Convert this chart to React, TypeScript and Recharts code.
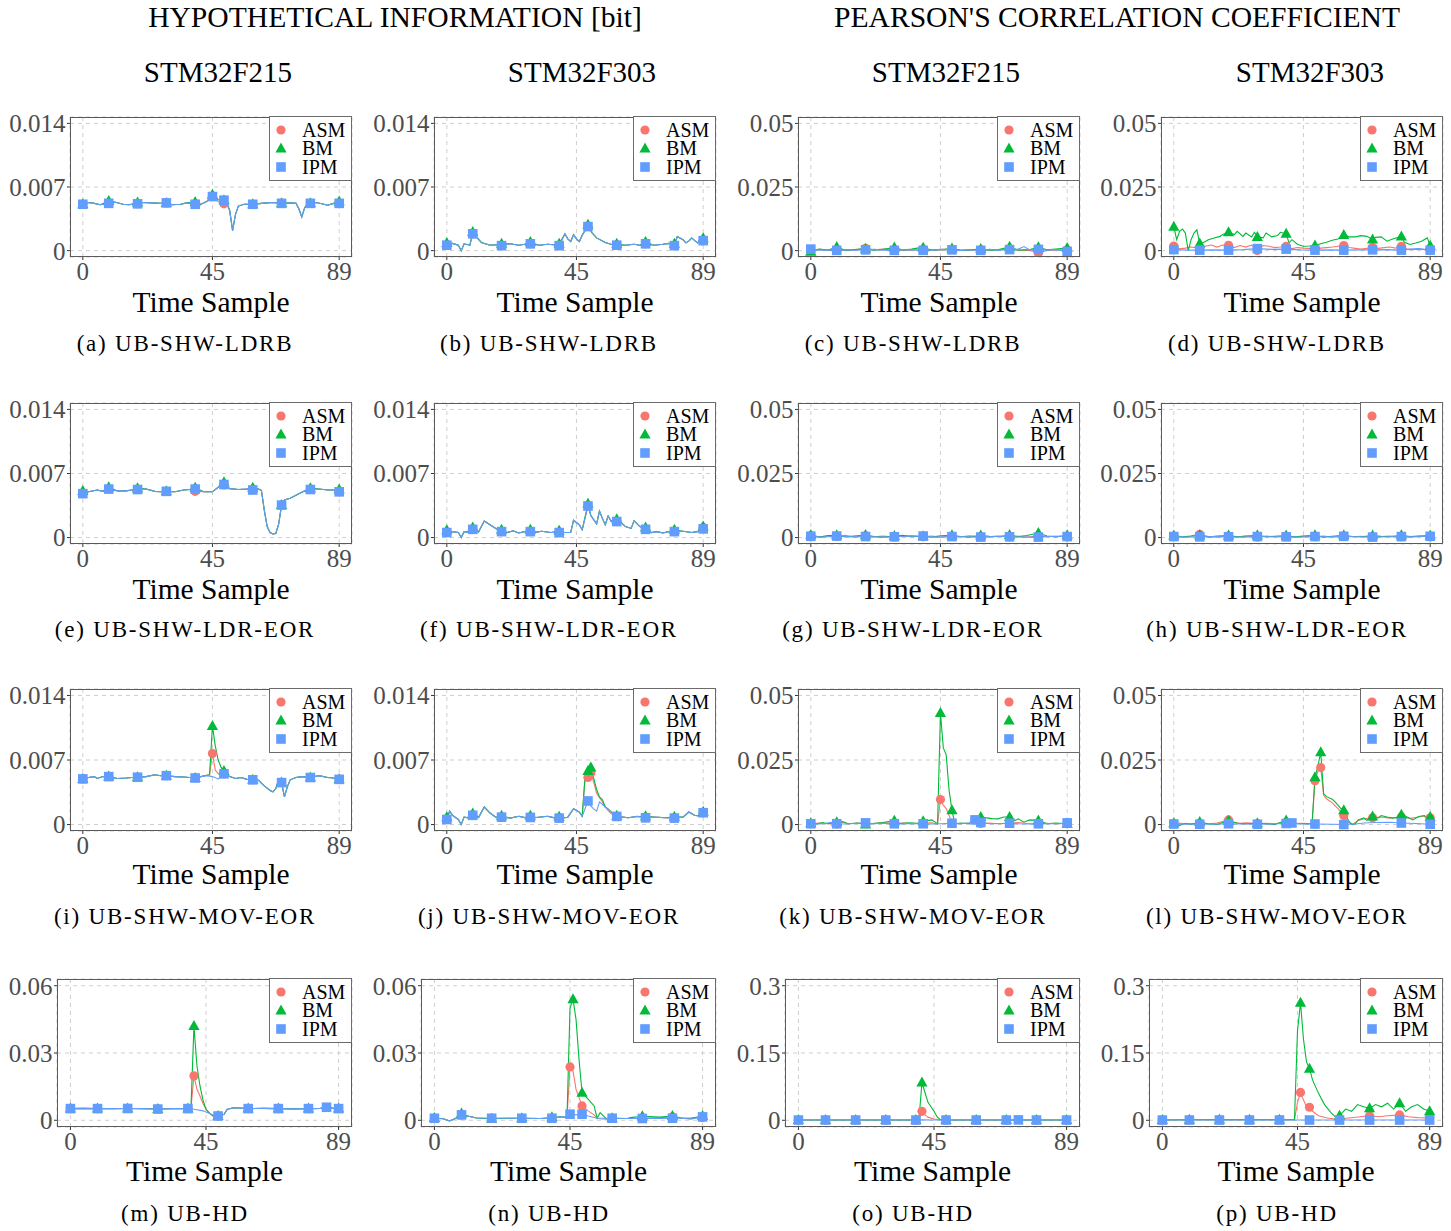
import React from "react";
import { ComposedChart, Line, Scatter, XAxis, YAxis, CartesianGrid } from "recharts";

type P = [number, number];

// ---------- labels / categories ----------
const SERIES_NAMES = ["ASM", "BM", "IPM"];
const SERIES_COLORS = ["#F8766D", "#00BA38", "#619CFF"];
const MARK_SAMPLES = [0, 9, 19, 29, 39, 49, 59, 69, 79, 89];
const X_TICKS = [0, 45, 89];
const X_DOMAIN: [number, number] = [-4.45, 93.45];
const INFO_TICKS = [0, 0.007, 0.014];
const INFO_LABELS = ["0", "0.007", "0.014"];
const PCC_TICKS = [0, 0.025, 0.05];
const PCC_LABELS = ["0", "0.025", "0.05"];
const HD_INFO_TICKS = [0, 0.03, 0.06];
const HD_INFO_LABELS = ["0", "0.03", "0.06"];
const HD_PCC_TICKS = [0, 0.15, 0.3];
const HD_PCC_LABELS = ["0", "0.15", "0.3"];
const SECTION_TITLES = ["HYPOTHETICAL INFORMATION [bit]", "PEARSON'S CORRELATION COEFFICIENT"];
const COLUMN_TITLES = ["STM32F215", "STM32F303", "STM32F215", "STM32F303"];
const ROW_NAMES = ["UB-SHW-LDRB", "UB-SHW-LDR-EOR", "UB-SHW-MOV-EOR", "UB-HD"];
const LETTERS = "abcdefghijklmnop";
const X_TITLE = "Time Sample";
const UNIT = 0.001; // series values below are in thousandths

function patch(base: P[], over: P[]): P[] {
  const m = new Map<number, number>(base.map(([x, y]) => [x, y] as [number, number]));
  over.forEach(([x, y]) => m.set(x, y));
  return Array.from(m.entries()).sort((p, q) => p[0] - q[0]) as P[];
}

// ---------- (a) ----------
const a_IPM: P[] = [[0,5.1],[2,5.3],[4,5.2],[6,5.05],[9,5.2],[11,5.35],[14,5.1],[16,5.05],[19,5.15],[21,5.3],[24,5.25],[27,5.2],[29,5.25],[31,5.05],[34,5.1],[36,5.25],[39,5.1],[41,5.1],[43,5.4],[45,5.95],[47,5.6],[49,5.55],[50,5.3],[51,4.4],[52,2.2],[53,4.0],[54,4.9],[56,5.1],[59,5.1],[62,5.2],[64,5.25],[66,5.3],[69,5.2],[72,5.25],[74,5.2],[75,4.6],[76,3.7],[77,4.7],[78,5.15],[79,5.2],[81,5.3],[83,5.15],[85,5.0],[87,5.2],[89,5.2]];
const a_ASM = patch(a_IPM, [[47,5.4],[49,5.15],[50,5.1]]);
const a_BM = patch(a_IPM, [[9,5.45],[19,5.3],[39,5.35],[45,6.15],[89,5.4]]);
// ---------- (b) ----------
const b_IPM: P[] = [[0,0.6],[2,0.8],[4,0.6],[5,0],[6,0.75],[8,0.6],[9,1.85],[10,1.6],[12,0.9],[15,0.6],[17,0.65],[19,0.55],[22,0.75],[25,0.6],[27,0.7],[29,0.75],[32,0.6],[35,0.7],[37,0.65],[39,0.55],[41,1.85],[42,1.3],[43,1.0],[44,1.75],[45,1.3],[46,1.0],[47,1.7],[49,2.65],[50,2.1],[52,1.4],[55,0.9],[57,0.7],[59,0.6],[62,0.6],[65,0.7],[67,0.6],[69,0.75],[72,0.6],[75,0.7],[77,0.8],[79,0.55],[80,1.55],[82,1.2],[83,0.85],[84,1.05],[85,1.4],[87,0.85],[89,1.1]];
const b_ASM = b_IPM;
const b_BM = patch(b_IPM, [[0,0.85],[9,2.05],[19,0.75],[29,0.95],[39,0.75],[49,2.85],[59,0.75],[69,0.95],[79,0.75],[89,1.35]]);
// ---------- (c) ----------
const c_ASM: P[] = [[0,0.3],[3,0.5],[6,0.1],[9,0.2],[12,0.1],[15,0.3],[19,0.9],[22,0.3],[25,0.6],[29,0.3],[32,0.1],[35,0.2],[39,0.4],[42,0.1],[45,0.3],[49,0.5],[52,0.2],[55,0.1],[59,0.3],[62,0.2],[65,0.4],[69,0.6],[72,0.2],[76,0.1],[79,-0.9],[82,0.1],[85,0.3],[89,0.2]];
const c_BM: P[] = [[0,-0.4],[3,0.6],[6,0.2],[9,1.4],[12,0.1],[15,0.4],[19,0.7],[22,0.2],[25,0.5],[29,1.2],[32,0.2],[35,0.6],[37,1.0],[39,1.1],[42,0.2],[45,0.4],[49,0.8],[52,0.1],[55,0.3],[59,0.6],[62,0.2],[65,0.3],[69,1.5],[72,0.2],[76,0.4],[79,1.3],[82,0.3],[85,0.6],[89,1.0]];
const c_IPM: P[] = [[0,0.6],[3,0.2],[6,0.3],[9,0.1],[12,0.4],[15,0.2],[19,0.3],[22,0.5],[25,0.2],[29,0.1],[32,0.4],[35,0.3],[39,0.1],[42,0.2],[45,0.5],[49,0.3],[52,0.1],[55,0.4],[59,0.1],[62,0.5],[65,0.2],[69,0.4],[72,0.6],[74,1.6],[76,0.3],[79,0.5],[82,0.2],[85,0.4],[89,-0.3]];
// ---------- (d) ----------
const d_ASM: P[] = [[0,1.8],[2,0.7],[4,1.0],[6,1.4],[8,1.0],[9,0.7],[11,1.7],[13,2.2],[15,1.4],[17,2.2],[19,2.1],[21,1.2],[23,2.0],[25,1.4],[27,2.2],[29,0.1],[31,2.0],[33,1.7],[35,1.2],[37,1.4],[39,1.7],[41,0.8],[43,1.2],[45,1.0],[47,0.9],[49,0.7],[51,1.0],[53,1.2],[55,1.4],[57,1.7],[59,2.0],[61,1.2],[63,0.9],[65,0.6],[67,0.9],[69,1.2],[71,0.9],[73,1.2],[75,1.4],[77,1.0],[79,1.7],[81,0.6],[83,0.4],[85,0.6],[87,0.4],[89,0.2]];
const d_BM: P[] = [[0,9.4],[1,4.3],[2,7.6],[3,8.5],[4,6.9],[5,0],[6,4.3],[7,6.9],[8,8.2],[9,2.8],[10,3.0],[12,4.3],[14,5.0],[16,5.6],[17,6.3],[19,7.2],[21,6.3],[22,7.6],[24,5.6],[25,6.9],[27,5.4],[28,7.2],[29,5.4],[31,5.0],[32,6.9],[34,5.4],[36,5.9],[37,7.2],[39,6.6],[40,3.0],[41,4.3],[43,2.4],[45,1.7],[47,1.8],[49,2.0],[51,2.7],[53,3.3],[55,4.1],[57,4.6],[59,6.1],[61,5.4],[63,5.4],[65,5.9],[67,5.6],[69,4.4],[70,5.2],[72,5.4],[74,3.7],[76,4.6],[79,5.6],[80,3.3],[82,2.4],[84,3.0],[86,3.7],[88,5.0],[89,1.9]];
const d_IPM: P[] = [[0,0.4],[5,0.2],[9,0.2],[14,0.3],[19,0.2],[24,0.4],[29,0.8],[34,0.5],[39,0.6],[44,0.3],[49,0.2],[54,0.3],[59,0.2],[64,0.3],[69,0.3],[74,0.4],[79,0.2],[82,0.6],[85,0.8],[87,0.5],[89,0.2]];
// ---------- (e) ----------
const e_IPM: P[] = [[0,4.8],[2,5.0],[5,5.2],[7,5.05],[9,5.3],[12,5.1],[15,5.1],[17,5.2],[19,5.25],[22,5.3],[25,5.05],[27,5.0],[29,5.05],[32,5.0],[35,5.2],[37,5.25],[39,5.3],[42,5.0],[45,5.0],[47,5.5],[49,5.8],[51,5.35],[54,5.25],[57,5.3],[59,5.2],[61,5.3],[62,5.15],[63,3.0],[64,1.2],[65,0.55],[66,0.4],[67,0.45],[68,1.5],[69,3.55],[70,4.1],[72,4.3],[75,4.8],[77,5.1],[79,5.25],[82,5.3],[85,5.2],[87,5.2],[89,5.0]];
const e_ASM = patch(e_IPM, [[39,5.05],[49,5.75]]);
const e_BM = patch(e_IPM, [[0,5.1],[9,5.5],[19,5.4],[39,5.45],[49,6.05],[59,5.45],[79,5.4],[89,5.25]]);
// ---------- (f) ----------
const f_IPM: P[] = [[0,0.55],[2,0.65],[4,0.55],[5,0],[6,0.65],[8,0.55],[9,0.9],[11,0.6],[13,1.8],[15,1.4],[17,1.0],[19,0.65],[21,0.55],[23,0.75],[25,0.5],[27,0.65],[29,0.65],[31,0.6],[33,0.7],[36,0.55],[39,0.55],[41,0.55],[43,0.55],[44,1.9],[46,1.4],[47,0.85],[49,3.45],[50,2.4],[52,1.5],[53,2.9],[54,2.1],[55,1.4],[56,2.35],[57,1.8],[59,1.75],[60,1.8],[62,1.2],[64,1.0],[65,1.85],[67,1.2],[69,0.9],[71,0.55],[73,0.65],[75,0.5],[77,0.65],[79,0.65],[82,0.7],[85,0.55],[87,0.65],[89,0.95]];
const f_ASM = patch(f_IPM, [[89,1.1]]);
const f_BM = patch(f_IPM, [[0,0.8],[9,1.1],[19,0.85],[29,0.85],[39,0.75],[49,3.7],[59,2.0],[69,1.1],[79,0.85],[89,1.2]]);
// ---------- (g) ----------
const g_ASM: P[] = [[0,0.8],[3,0.3],[6,0.6],[9,0.4],[12,0.9],[15,0.2],[19,0.7],[22,0.3],[25,0.6],[29,0.2],[32,0.5],[35,0.8],[39,0.3],[42,0.6],[45,0.2],[49,0.5],[52,0.3],[55,0.7],[59,0.4],[62,0.2],[65,0.6],[69,0.3],[72,0.5],[75,0.2],[79,0.6],[82,0.3],[85,0.5],[89,0.3]];
const g_BM: P[] = [[0,1.0],[3,0.2],[6,0.8],[9,0.9],[12,0.3],[15,0.6],[19,1.0],[22,0.4],[25,0.2],[29,0.6],[32,0.9],[35,0.3],[39,0.5],[42,0.2],[45,0.7],[49,0.9],[52,0.4],[55,0.2],[59,0.8],[62,0.5],[65,0.3],[69,1.0],[72,0.4],[75,0.8],[79,1.8],[82,0.6],[85,0.3],[89,0.9]];
const g_IPM: P[] = [[0,0.5],[4,0.2],[9,0.6],[14,0.3],[19,0.4],[24,0.2],[29,0.3],[34,0.5],[39,0.6],[44,0.2],[49,0.4],[54,0.3],[59,0.2],[64,0.5],[69,0.3],[74,0.2],[79,0.2],[84,0.5],[89,0.4]];
// ---------- (h) ----------
const h_ASM: P[] = [[0,0.5],[3,0.2],[6,0.7],[9,1.3],[12,0.4],[15,0.2],[19,0.6],[22,0.3],[25,0.5],[29,0.2],[32,0.6],[35,0.3],[39,0.4],[42,0.2],[45,0.5],[49,0.3],[52,0.6],[55,0.2],[59,0.4],[62,0.3],[65,0.5],[69,0.2],[72,0.4],[75,0.6],[79,0.3],[82,0.2],[85,0.5],[89,0.3]];
const h_BM: P[] = [[0,0.8],[3,0.3],[6,0.5],[9,0.9],[12,0.2],[15,0.6],[19,0.8],[22,0.3],[25,0.6],[29,0.9],[32,0.3],[35,0.5],[39,0.8],[42,0.3],[45,0.6],[49,0.9],[52,0.2],[55,0.5],[59,0.9],[62,0.4],[65,0.3],[69,0.8],[72,0.5],[75,0.3],[79,0.9],[82,0.4],[85,0.6],[89,0.8]];
const h_IPM: P[] = [[0,0.4],[4,0.2],[9,0.3],[14,0.4],[19,0.3],[24,0.2],[29,0.4],[34,0.3],[39,0.3],[44,0.2],[49,0.4],[54,0.3],[59,0.5],[64,0.3],[69,0.2],[74,0.3],[79,0.4],[84,0.3],[89,0.5]];
// ---------- (i) ----------
const i_IPM: P[] = [[0,4.95],[2,5.1],[4,5.2],[5,5.0],[7,5.2],[9,5.2],[12,5.0],[15,5.05],[17,5.1],[19,5.13],[22,5.2],[25,5.4],[27,5.3],[29,5.3],[32,5.2],[35,5.15],[37,5.1],[39,5.05],[41,5.2],[43,5.3],[45,5.2],[47,4.95],[49,5.5],[51,5.2],[53,5.0],[55,5.1],[57,4.9],[59,4.85],[61,4.8],[63,4.2],[65,3.7],[66,3.55],[67,3.9],[68,4.9],[69,4.55],[70,3.0],[71,4.1],[72,4.85],[74,5.1],[76,5.2],[79,5.1],[82,5.3],[85,5.1],[87,5.05],[89,4.9]];
const i_ASM = patch(i_IPM, [[43,5.35],[44,5.4],[45,7.7],[46,5.9],[47,5.55]]);
const i_BM = patch(i_IPM, [[43,5.35],[44,5.4],[45,10.7],[46,8.5],[47,7.0],[48,6.2],[49,5.8]]);
// ---------- (j) ----------
const j_IPM: P[] = [[0,0.55],[1,1.45],[2,1.0],[4,0.55],[5,0],[6,0.8],[8,0.7],[9,1.0],[11,0.75],[13,1.9],[15,1.25],[17,0.8],[19,0.8],[22,0.7],[25,0.9],[27,0.75],[29,0.77],[31,0.77],[35,0.9],[37,0.75],[39,0.7],[41,0.75],[42,0.8],[44,1.72],[46,1.35],[47,0.9],[49,2.56],[50,2.0],[51,1.7],[52,1.45],[53,2.45],[55,1.9],[57,1.4],[59,0.88],[61,0.8],[63,0.73],[66,0.88],[69,0.73],[72,0.8],[76,0.73],[79,0.7],[82,0.8],[84,1.36],[86,1.0],[88,0.9],[89,1.28]];
const j_ASM = patch(j_IPM, [[48,5.0],[49,5.1],[50,5.6],[51,4.6],[52,3.4],[53,2.9],[54,2.45],[56,1.5],[57,1.2],[59,0.9]]);
const j_BM = patch(j_IPM, [[0,0.8],[9,1.2],[19,0.95],[29,0.95],[39,0.85],[48,5.3],[49,5.8],[50,6.2],[51,5.0],[52,3.8],[53,3.0],[54,2.7],[56,1.7],[58,1.1],[59,0.95],[69,0.9],[79,0.85],[89,1.4]]);
// ---------- (k) ----------
const k_ASM: P[] = [[0,0.4],[3,0.6],[6,0.3],[9,0.2],[11,0.9],[13,0.3],[16,0.5],[19,0.6],[22,0.3],[25,0.8],[29,0.4],[32,0.6],[35,0.3],[39,0.5],[42,0.7],[44,0.2],[45,9.7],[46,7.5],[47,6.2],[48,3.5],[49,0.5],[52,0.3],[55,0.6],[57,0.9],[59,0.4],[62,0.6],[65,0.3],[69,0.5],[72,0.8],[75,0.4],[79,0.3],[82,0.5],[85,0.3],[89,0.4]];
const k_BM: P[] = [[0,0.5],[2,0.2],[4,0.8],[6,0.3],[9,0.9],[11,1.2],[13,0.3],[16,0.6],[19,0.0],[22,0.5],[25,0.8],[29,1.5],[31,0.4],[34,0.7],[37,0.5],[39,1.3],[42,1.8],[44,0.3],[45,43.2],[46,29.7],[47,27.0],[48,13.3],[49,5.5],[50,0.3],[52,0.6],[55,0.4],[57,2.9],[59,2.9],[61,2.6],[63,2.3],[65,2.2],[67,2.9],[69,2.9],[71,1.6],[72,2.2],[74,0.9],[76,1.8],[79,1.6],[82,0.3],[85,0.6],[89,0.3]];
const k_IPM: P[] = [[0,0.3],[3,0.2],[5,0.4],[7,0.9],[9,0.3],[12,0.2],[15,0.4],[19,0.65],[22,0.3],[25,0.5],[29,0.3],[32,0.2],[35,0.4],[39,0.3],[42,0.2],[45,0.3],[49,0.5],[52,0.3],[55,0.6],[57,1.8],[59,0.8],[62,0.3],[66,0.4],[69,0.5],[72,0.3],[76,0.2],[79,0.3],[82,0.4],[86,0.3],[89,0.65]];
// ---------- (l) ----------
const l_ASM: P[] = [[0,0.3],[2,0.6],[4,0.2],[6,0.4],[9,0.5],[12,0.2],[15,0.6],[17,1.2],[19,1.8],[21,0.9],[23,0.5],[25,0.7],[29,0.4],[32,0.5],[35,0.3],[39,0.8],[41,0.4],[45,0.5],[48,0.3],[49,17.0],[50,20.5],[51,22.1],[52,11.4],[53,10.0],[55,8.4],[57,6.2],[59,3.5],[60,1.6],[61,0.6],[62,0],[64,1.6],[66,2.2],[69,2.6],[72,2.9],[75,2.5],[79,2.9],[82,2.4],[85,2.9],[87,3.3],[89,2.6]];
const l_BM: P[] = [[0,0.5],[2,-0.3],[4,0.5],[6,0],[9,1.0],[12,0.3],[15,0],[19,1.5],[22,0.5],[25,0.3],[29,0.5],[32,0.3],[35,0],[39,1.6],[41,0.5],[45,0.3],[48,0.3],[49,18.3],[50,22.5],[51,28.0],[52,12.0],[53,10.8],[55,9.8],[56,8.8],[57,7.5],[58,6.2],[59,5.5],[60,2.9],[61,0.9],[62,0],[63,0.3],[64,1.8],[66,2.6],[67,1.6],[69,3.1],[71,2.6],[72,3.5],[74,2.9],[76,2.5],[78,2.9],[79,3.8],[81,2.9],[83,1.8],[85,3.1],[87,3.5],[88,1.8],[89,2.9]];
const l_IPM: P[] = [[0,0.2],[9,0.1],[19,0.3],[29,0.1],[39,0.4],[41,0.6],[45,0.2],[49,0.2],[55,0.1],[59,0.0],[63,0.2],[66,0.6],[70,0.8],[75,0.9],[79,0.6],[84,0.4],[89,0.1]];
// ---------- (m) ----------
const m_IPM: P[] = [[0,5.2],[4,5.3],[9,5.2],[14,5.2],[19,5.25],[24,5.2],[29,5.0],[34,5.2],[39,5.2],[40,5.2],[41,4.9],[44,4.2],[46,3.1],[48,1.9],[49,1.9],[51,2.7],[52,4.8],[54,5.6],[56,5.5],[59,5.2],[64,5.3],[69,5.2],[74,5.1],[79,5.2],[83,5.3],[85,5.8],[87,5.4],[89,5.2]];
const m_ASM = patch(m_IPM, [[41,19.8],[42,13.8],[43,10.8],[44,7.5],[45,4.9],[46,3.4],[47,2.2],[48,1.2]]);
const m_BM = patch(m_IPM, [[41,42.0],[42,24.2],[43,15.3],[44,9.0],[45,4.9],[46,3.4],[47,2.2],[48,1.5]]);
// ---------- (n) ----------
const n_IPM: P[] = [[0,0.9],[3,0.7],[5,-0.3],[7,0.8],[9,2.4],[11,1.9],[14,1.0],[19,0.9],[24,0.9],[29,0.9],[35,0.8],[39,0.9],[42,1.6],[44,1.4],[45,2.7],[47,2.4],[49,2.7],[51,1.9],[54,0.9],[59,0.9],[64,0.8],[69,0.8],[75,0.8],[79,0.9],[82,1.0],[85,0.5],[89,1.5]];
const n_ASM = patch(n_IPM, [[44,1.2],[45,23.8],[46,22.0],[47,13.8],[48,10.1],[49,6.4],[51,4.2],[53,2.4],[55,0.7],[57,0.5],[59,0.8],[65,0.8],[69,1.0],[75,1.2],[79,1.5],[85,0.9],[89,1.2]]);
const n_BM = patch(n_IPM, [[0,1.0],[9,3.0],[19,0.7],[29,0.9],[39,1.3],[44,1.2],[45,50.0],[46,54.0],[47,45.0],[48,27.0],[49,12.3],[51,9.4],[53,6.4],[55,3.4],[57,0.7],[59,0.9],[65,1.2],[69,1.8],[75,1.4],[79,1.9],[85,0.9],[89,1.9]]);
// ---------- (o) ----------
const o_ASM: P[] = [[0,0.5],[9,0.5],[19,0.5],[29,0.5],[39,0.5],[40,0.5],[41,20],[42,12],[43,7],[45,3],[47,1],[49,0.5],[59,0.5],[69,0.5],[79,0.5],[89,0.5]];
const o_BM: P[] = [[0,0.5],[9,0.5],[19,0.5],[29,0.5],[39,0.5],[40,0.5],[41,84],[42,62],[43,40],[45,20],[46,8],[47,2],[49,0.5],[59,0.5],[69,0.5],[79,0.5],[89,0.5]];
const o_IPM: P[] = [[0,0.5],[9,0.5],[19,0.5],[29,0.5],[39,0.5],[41,1.0],[45,0.5],[49,0.5],[59,0.5],[69,0.5],[73,0.8],[76,0.5],[79,0.5],[89,0.5]];
// ---------- (p) ----------
const p_ASM: P[] = [[0,0.5],[9,1],[19,1],[29,1],[39,1],[44,1],[45,40],[46,62],[47,45],[48,30],[49,29],[50,20],[52,10],[55,5],[58,2],[59,3],[62,5],[66,8],[69,10],[72,8],[75,10],[79,12],[82,8],[85,6],[89,5]];
const p_BM: P[] = [[0,0.5],[9,1],[19,1],[29,1],[39,1],[44,1],[45,200],[46,262],[47,180],[48,130],[49,115],[50,90],[52,60],[54,35],[56,18],[58,5],[59,10],[61,25],[63,20],[65,35],[67,30],[69,27],[71,35],[73,30],[75,38],[77,25],[79,38],[81,20],[83,30],[85,35],[87,25],[89,20]];
const p_IPM: P[] = [[0,0.5],[9,0.5],[19,0.5],[29,0.5],[39,0.5],[49,0.5],[59,0.5],[69,0.5],[79,0.5],[89,0.5]];

// per-panel series in [ASM, BM, IPM] order and the sample of each series' maximum marker
const PANEL_SERIES: P[][][] = [
  [a_ASM, a_BM, a_IPM], [b_ASM, b_BM, b_IPM], [c_ASM, c_BM, c_IPM], [d_ASM, d_BM, d_IPM],
  [e_ASM, e_BM, e_IPM], [f_ASM, f_BM, f_IPM], [g_ASM, g_BM, g_IPM], [h_ASM, h_BM, h_IPM],
  [i_ASM, i_BM, i_IPM], [j_ASM, j_BM, j_IPM], [k_ASM, k_BM, k_IPM], [l_ASM, l_BM, l_IPM],
  [m_ASM, m_BM, m_IPM], [n_ASM, n_BM, n_IPM], [o_ASM, o_BM, o_IPM], [p_ASM, p_BM, p_IPM],
];
const PEAK_MARKS: (number | null)[][] = [
  [45, 45, 45], [null, null, null], [null, null, null], [null, null, null],
  [null, null, null], [null, null, null], [null, null, null], [null, null, null],
  [45, 45, null], [50, 50, null], [45, 45, 57], [51, 51, 41],
  [41, 41, 85], [45, 46, 45], [41, 41, 73], [46, 46, null],
];

// ---------- layout ----------
const FONT = "'Liberation Serif', 'Times New Roman', serif";
const ROW_TOP = [117, 403, 689, 979];
const ROW_BOTTOM = [257, 544, 831, 1127];
const PLOT_LEFT = [[70, 434, 798, 1161], [70, 434, 798, 1161], [70, 434, 798, 1161], [57, 421, 785, 1149]];
const PLOT_RIGHT = [352, 716, 1080, 1443];
const X_TITLE_Y = [302, 589, 874, 1171];
const CAPTION_Y = [343, 629, 916, 1213];
const CAPTION_X = [185, 549, 913, 1277];
const COL_TITLE_X = [218, 582, 946, 1310];

function Marker({ kind, cx, cy, color }: { kind: number; cx: number; cy: number; color: string }) {
  if (cx == null || cy == null || isNaN(cx) || isNaN(cy)) return <g />;
  if (kind === 0) return <circle cx={cx} cy={cy} r={4.6} fill={color} />;
  if (kind === 1)
    return <polygon points={`${cx},${cy - 6} ${cx + 5.6},${cy + 4} ${cx - 5.6},${cy + 4}`} fill={color} />;
  return <rect x={cx - 4.8} y={cy - 4.8} width={9.6} height={9.6} fill={color} />;
}

// centred text; a tight line box keeps the glyphs centred on y
function Text({ x, y, size, children, color = "#000", spacing = 0 }: any) {
  const lh = Math.round(size * 0.55);
  return (
    <div
      style={{
        position: "absolute", left: x, top: y - lh / 2, transform: "translateX(-50%)", height: lh,
        fontSize: size, lineHeight: `${lh}px`, fontFamily: FONT, color, whiteSpace: "nowrap",
        letterSpacing: spacing,
      }}
    >
      {children}
    </div>
  );
}

function Legend({ right, top }: { right: number; top: number }) {
  const w = 83, h = 65, step = 18.5, first = 13;
  return (
    <div
      style={{
        position: "absolute", left: right - w, top: top - 1, width: w, height: h,
        border: "1.2px solid #6b6b6b", boxSizing: "border-box", background: "#fff",
      }}
    >
      <svg style={{ position: "absolute", left: 4, top: 0 }} width={16} height={h - 2}>
        {SERIES_NAMES.map((name, k) => (
          <Marker key={name} kind={k} cx={7} cy={first + k * step} color={SERIES_COLORS[k]} />
        ))}
      </svg>
      <div
        style={{
          position: "absolute", left: 32, top: first - step / 2, lineHeight: `${step}px`,
          fontSize: 20, fontFamily: FONT, color: "#000", whiteSpace: "pre",
        }}
      >
        {SERIES_NAMES.join("\n")}
      </div>
    </div>
  );
}

function Panel({ idx }: { idx: number }) {
  const r = Math.floor(idx / 4), c = idx % 4;
  const left = PLOT_LEFT[r][c], right = PLOT_RIGHT[c], top = ROW_TOP[r], bottom = ROW_BOTTOM[r];
  const YW = 80, MT = 8, MR = 8, XH = 40;
  const W = YW + (right - left) + MR;
  const H = MT + (bottom - top) + XH;
  const info = c < 2;
  const ticks = r < 3 ? (info ? INFO_TICKS : PCC_TICKS) : info ? HD_INFO_TICKS : HD_PCC_TICKS;
  const labels = r < 3 ? (info ? INFO_LABELS : PCC_LABELS) : info ? HD_INFO_LABELS : HD_PCC_LABELS;
  const top_ = ticks[2];
  const domain: [number, number] = [-0.05 * top_, 1.05 * top_];
  const series = PANEL_SERIES[idx].map((s) => s.map(([x, y]) => ({ x, y: y * UNIT })));
  const marks = series.map((s, k) => {
    const set = new Set(MARK_SAMPLES);
    const pk = PEAK_MARKS[idx][k];
    if (pk != null) set.add(pk);
    return s.filter((p) => set.has(p.x));
  });
  const tickStyle = { fill: "#4d4d4d", fontSize: 25, fontFamily: FONT };
  return (
    <>
      <div style={{ position: "absolute", left: left - YW, top: top - MT }}>
        <ComposedChart width={W} height={H} margin={{ top: MT, right: MR, bottom: 0, left: 0 }}>
          <CartesianGrid stroke="#cfcfcf" strokeDasharray="4 4" strokeWidth={1} />
          <XAxis
            type="number" dataKey="x" domain={X_DOMAIN} ticks={X_TICKS} allowDataOverflow interval={0}
            height={XH} axisLine={false} tickSize={3} tickMargin={2} tick={tickStyle}
            tickLine={{ stroke: "#333" }}
          />
          <YAxis
            type="number" dataKey="y" domain={domain} ticks={ticks} allowDataOverflow interval={0}
            width={YW} axisLine={false} tickSize={3} tickMargin={1.5} tick={tickStyle}
            tickLine={{ stroke: "#333" }}
            tickFormatter={(v: number) => {
              const i = ticks.findIndex((t) => Math.abs(t - v) < 1e-9);
              return i >= 0 ? labels[i] : String(v);
            }}
          />
          {series.map((s, k) => (
            <Line
              key={"l" + k} data={s} dataKey="y" type="linear" stroke={SERIES_COLORS[k]} strokeWidth={1.1}
              dot={false} activeDot={false} isAnimationActive={false} legendType="none"
            />
          ))}
          {marks.map((s, k) => (
            <Scatter
              key={"s" + k} data={s} dataKey="y" fill={SERIES_COLORS[k]} isAnimationActive={false}
              legendType="none"
              shape={(p: any) => <Marker kind={k} cx={p.cx} cy={p.cy} color={SERIES_COLORS[k]} />}
            />
          ))}
        </ComposedChart>
      </div>
      <div
        style={{
          position: "absolute", left, top, width: right - left, height: bottom - top,
          border: "1px solid #5a5a5a", boxSizing: "border-box", pointerEvents: "none",
        }}
      />
      <Legend right={right} top={top} />
      <Text x={(left + right) / 2} y={X_TITLE_Y[r]} size={29.5}>{X_TITLE}</Text>
      <Text x={CAPTION_X[c]} y={CAPTION_Y[r]} size={23} spacing={1.8}>
        {`(${LETTERS[idx]}) ${ROW_NAMES[r]}`}
      </Text>
    </>
  );
}

export default function App() {
  return (
    <div style={{ position: "absolute", left: 0, top: 0, width: 1451, height: 1231, background: "#fff", overflow: "hidden" }}>
      <Text x={395} y={17} size={29.6}>{SECTION_TITLES[0]}</Text>
      <Text x={1117} y={17} size={29.6}>{SECTION_TITLES[1]}</Text>
      {COLUMN_TITLES.map((t, c) => (
        <Text key={c} x={COL_TITLE_X[c]} y={72} size={29}>{t}</Text>
      ))}
      {Array.from({ length: 16 }, (_, i) => (
        <Panel key={i} idx={i} />
      ))}
    </div>
  );
}
